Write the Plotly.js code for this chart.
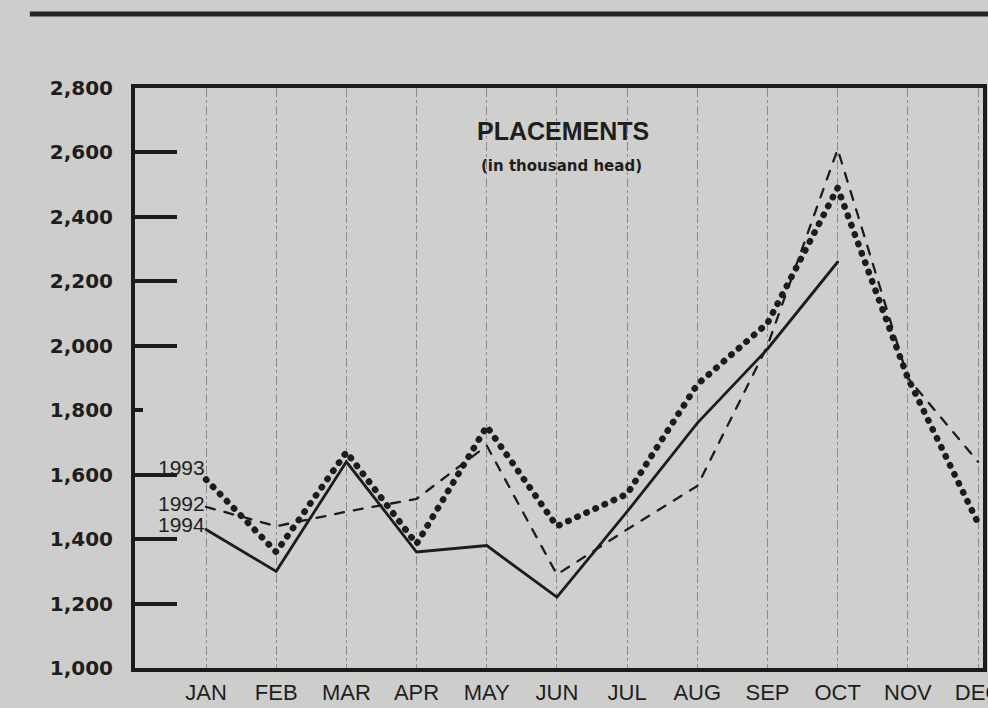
<!DOCTYPE html>
<html>
<head>
<meta charset="utf-8">
<script src="https://cdn.plot.ly/plotly-3.0.1.min.js"></script>
<style>
  html, body { margin: 0; padding: 0; background: #cdcdcb; }
  #chart { width: 988px; height: 708px; }
  .scatterlayer .js-line { stroke-linecap: round !important; }
</style>
</head>
<body>
<div id="chart"></div>
<script>
const months = ["JAN","FEB","MAR","APR","MAY","JUN","JUL","AUG","SEP","OCT","NOV","DEC"];
const monthLabels = ["JAN","FEB","MAR","APR","MAY","JUN","JUL","AUG","SEP","OCT","NOV","DEC"];
const y1992 = [1500, 1440, 1485, 1525, 1690, 1290, 1430, 1565, 2000, 2610, 1900, 1640];
const y1993 = [1585, 1360, 1670, 1385, 1750, 1440, 1540, 1880, 2070, 2490, 1900, 1450];
const y1994 = [1430, 1300, 1640, 1360, 1380, 1220, 1485, 1760, 1990, 2260, null, null];
const yTicks = [1000, 1200, 1400, 1600, 1800, 2000, 2200, 2400, 2600, 2800];
const yTickText = ["1,000","1,200","1,400","1,600","1,800","2,000","2,200","2,400","2,600","2,800"];
const longTicks = [1200, 1400, 1600, 2000, 2200, 2400, 2600];
const seriesNames = ["1992", "1993", "1994"];

const ink = "#1c1c1c";
const idx = months.map((m, i) => i);

const traces = [
  { x: idx, y: y1992, name: seriesNames[0], mode: "lines",
    line: { color: ink, width: 2.3, dash: "9px,10px" } },
  { x: idx, y: y1993, name: seriesNames[1], mode: "lines",
    line: { color: ink, width: 6.5, dash: "0.5px,9.5px" } },
  { x: idx, y: y1994, name: seriesNames[2], mode: "lines", connectgaps: false,
    line: { color: ink, width: 2.8 } }
];

const labelShift = [3, 12, 5];
const seriesFirst = [y1992[0], y1993[0], y1994[0]];
const annotations = seriesNames.map((n, i) => ({
  x: 0, y: seriesFirst[i], xref: "x", yref: "y", text: n, showarrow: false,
  xanchor: "right", yanchor: "middle", xshift: 1, yshift: labelShift[i],
  font: { family: "Liberation Sans", size: 21, color: "#222" }
}));
annotations.push({
  x: 0.505, y: 0.926, xref: "paper", yref: "paper", text: "PLACEMENTS", showarrow: false,
  xanchor: "center", yanchor: "middle",
  font: { family: "Liberation Sans", size: 25, color: "#1e1e1e", weight: 700 }
});
annotations.push({
  x: 0.503, y: 0.8655, xref: "paper", yref: "paper", text: "(in thousand head)", showarrow: false,
  xanchor: "center", yanchor: "middle",
  font: { family: "DejaVu Sans", size: 15, color: "#1e1e1e", weight: 700 }
});

const layout = {
  width: 988, height: 708,
  paper_bgcolor: "#cdcdcb", plot_bgcolor: "#cfcfcd",
  margin: { l: 135, r: 5, t: 88, b: 40 },
  showlegend: false,
  xaxis: {
    range: [-1.012, 11.071],
    tickmode: "array", tickvals: idx, ticktext: monthLabels,
    showgrid: true, gridcolor: "#8c8c8c", gridwidth: 1, griddash: "dashdot",
    zeroline: false, ticks: "", ticklabelstandoff: 2, ticklabeloverflow: "allow",
    showline: true, linecolor: ink, linewidth: 4, mirror: true,
    tickfont: { family: "Liberation Sans", size: 22, color: "#1e1e1e" }
  },
  yaxis: {
    range: [1000, 2800],
    tickmode: "array", tickvals: yTicks, ticktext: yTickText,
    ticks: "inside", ticklen: 8, tickwidth: 4, tickcolor: ink,
    minor: { tickmode: "array", tickvals: longTicks, ticks: "inside", ticklen: 42, tickwidth: 4, tickcolor: ink, showgrid: false },
    showgrid: false, zeroline: false, ticklabelstandoff: 14,
    showline: true, linecolor: ink, linewidth: 4, mirror: true,
    tickfont: { family: "DejaVu Sans", size: 20, color: "#1e1e1e", weight: 700 }
  },
  annotations: annotations,
  shapes: [
    { type: "line", xref: "paper", yref: "paper", x0: -0.124, x1: 1.01, y0: 1.1276, y1: 1.1276,
      line: { color: "#262626", width: 5 } }
  ]
};

Plotly.newPlot("chart", traces, layout, { staticPlot: true, displayModeBar: false });
</script>
</body>
</html>
